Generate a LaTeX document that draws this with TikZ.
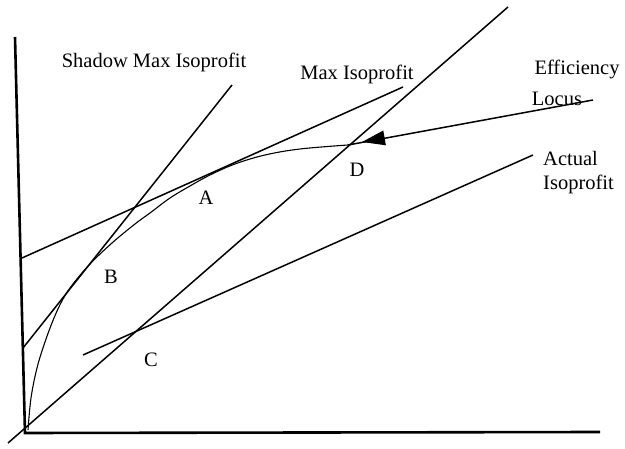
\documentclass[tikz,border=0pt]{standalone}
\usepackage{fontspec}
\setmainfont{Liberation Serif}
\begin{document}
\begin{tikzpicture}[x=1pt,y=-1pt,
  axis/.style={line width=2.6pt},
  ln/.style={line width=1.5pt},
  curve/.style={line width=1.1pt},
  lbl/.style={inner sep=0pt,font=\fontsize{20.5}{24}\selectfont}]
\useasboundingbox (0,0) rectangle (625,449);
% axes
\coordinate (ytop) at (15,37);
\coordinate (orig) at (25,433);
\coordinate (xend) at (600,432);
\draw[axis] (ytop) -- (orig) -- (xend);
% lines
\coordinate (m1) at (8,443);
\coordinate (m2) at (508,7);
\draw[ln] (m1) -- (m2);
\coordinate (s1) at (23,348);
\coordinate (s2) at (232,85);
\draw[ln] (s1) -- (s2);
\coordinate (a1) at (22,258);
\coordinate (a2) at (403,87);
\draw[ln] (a1) -- (a2);
\coordinate (c1) at (83,355);
\coordinate (c2) at (533,155);
\draw[ln] (c1) -- (c2);
% efficiency locus
\coordinate (d) at (348,145);
\coordinate (e2) at (593,100);
\draw[curve] plot[smooth,tension=0.6] coordinates {(28,430) (31,398) (37,368) (45,342) (54,318) (63,299) (73,284) (90,264) (112,243) (135,224) (150,213) (170,198) (190,186) (210,175) (235,164) (265,155) (300,149) (348,145)};
\draw[ln] (e2) -- (d);
\fill (362,142) -- (385.9,145.3) -- (383.3,130.5) -- cycle;
% labels
\node[lbl] (lshadow) at (154,62) {Shadow Max Isoprofit};
\node[lbl] (lmax) at (357,74) {Max Isoprofit};
\node[lbl] (leff) at (577,69) {Efficiency};
\node[lbl] (lloc) at (557,99) {Locus};
\node[lbl,align=left,anchor=west] (lact) at (543,173) {Actual\\Isoprofit};
\node[lbl] (la) at (206,198) {A};
\node[lbl] (lb) at (111,277) {B};
\node[lbl] (lc) at (151,360) {C};
\node[lbl] (ld) at (357,170) {D};
\end{tikzpicture}
\end{document}
